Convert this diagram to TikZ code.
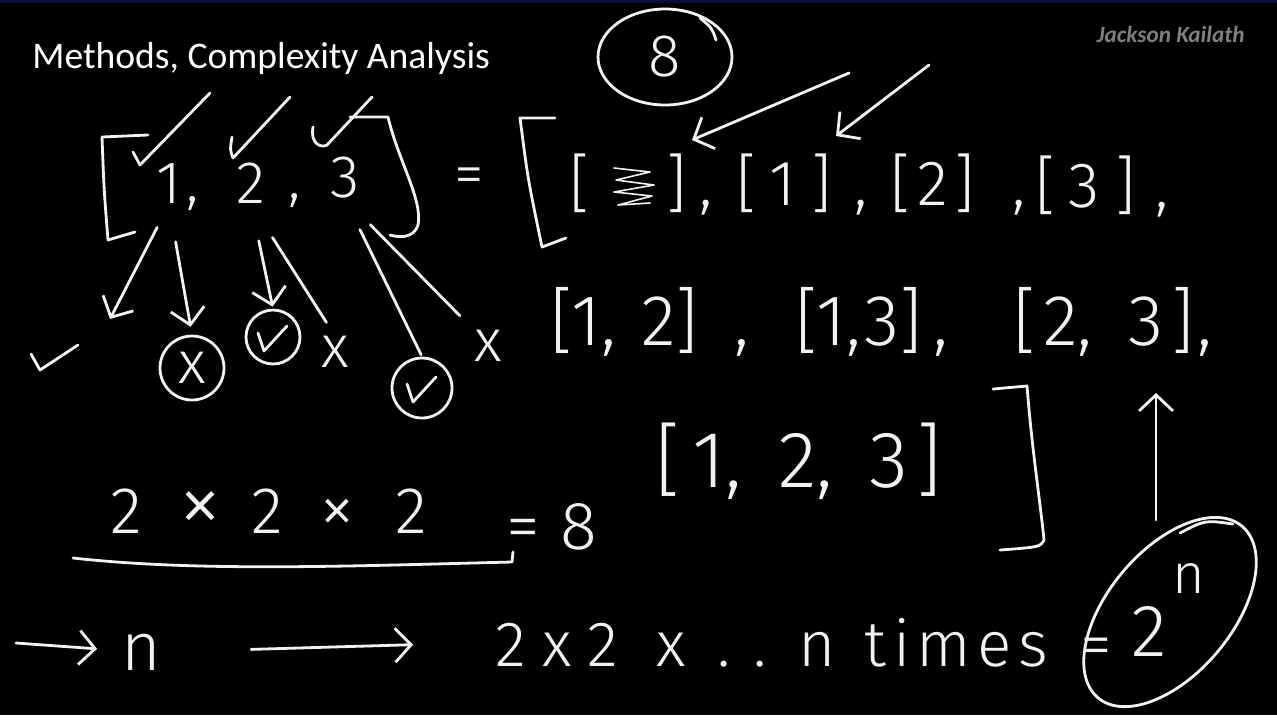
\documentclass[tikz,border=0pt]{standalone}
\usepackage{fontspec}
\usepackage{graphicx}
\setmainfont{Carlito}
\newfontfamily\hand{Fira Sans Light}
\usetikzlibrary{arrows.meta,positioning,calc,shapes.geometric}
\definecolor{chalk}{HTML}{F2F2F2}
\definecolor{sign}{HTML}{808080}
\definecolor{rim}{HTML}{0B0B40}

\begin{document}
\begin{tikzpicture}[
  x=0.5pt, y=-0.5pt,
  ink/.style={draw=chalk, line width=1.4pt, line cap=round, line join=round},
  pointer/.style={ink, -{Straight Barb[length=8pt, width=17pt]}},
  hand/.style={text=chalk, inner sep=0pt, font=\hand\fontsize{30}{32}\selectfont},
  row/.style={hand, anchor=base west, font=\hand\fontsize{32}{34}\selectfont},
  wide/.style={hand, anchor=base west, font=\hand\fontsize{36}{38}\selectfont},
  ring/.style={circle, ink, inner sep=0pt},
  tickmark/.pic={\draw[ink] (-15,-4) -- (-9,14) -- (14,-11);}
]
\fill[black] (0,0) rectangle (1277,715);
\fill[rim] (0,0) rectangle (1277,3);

\node[anchor=base west, inner sep=0pt, text=white, font=\fontsize{18.8}{22}\selectfont] (title) at (32,68) {Methods, Complexity Analysis};
\node[anchor=base east, inner sep=0pt, text=sign, font=\bfseries\itshape\fontsize{11.6}{13}\selectfont] (author) at (1245,42) {Jackson Kailath};

% the set 1,2,3
\node[hand] (d1) at (169,184) {1};
\node[hand] (c1) at (193,203) {,};
\node[hand] (d2) at (251,183) {2};
\node[hand] (c2) at (295,200) {,};
\node[hand] (d3) at (345,178) {3};
\draw[ink] (148,135) -- (102,137) .. controls (104,190) .. (108,240) -- (135,232);
\draw[ink] (350,117) -- (388,117) .. controls (398,160) and (423,200) .. (418,225) .. controls (414,238) and (400,238) .. (390,235);
\draw[ink] (133,152) -- (140,165) -- (210,93);
\draw[ink] (232,137) .. controls (230,150) .. (233,158) -- (290,97);
\draw[ink] (313,127) .. controls (310,145) and (322,148) .. (327,145) -- (372,97);
\node[hand] (eq1) at (469,181) {=};

% choices for each element
\coordinate (lft) at (110,319);
\node[ring, minimum size=32pt] (cx) at (192,368) {};
\node[hand] (cxt) at (cx) {x};
\node[ring, minimum size=27pt] (ck1) at (273,337) {};
\node[ring, minimum size=30pt] (ck2) at (422,388) {};
\pic at (ck1) {tickmark};
\pic at (ck2) {tickmark};
\draw[ink] (31,354) -- (40,370) -- (78,345);
\node[hand] (xa) at (335,352) {x};
\node[hand] (xb) at (488,346) {x};

\draw[pointer, shorten <=13pt] (d1.south) -- (lft);
\draw[pointer, shorten <=19pt, shorten >=4pt] (d1.south) -- (cx.north);
\draw[pointer, shorten <=19pt, shorten >=1pt] (d2.south) -- (ck1.north);
\draw[ink, shorten <=20pt, shorten >=8pt] (d2.south) -- (xa.north);
\draw[ink, shorten <=17pt, shorten >=1pt] (d3.south) -- (ck2.north);
\draw[ink, shorten <=18pt, shorten >=10pt] (d3.south) -- (xb.north west);

% all subsets
\draw[ink] (555,118) -- (520,118) .. controls (528,180) .. (542,247) -- (566,238);
\node[row] (e0) at (569,205) {[\hspace{1.2em}]\hspace{0.2em},};
\draw[ink, line width=0.8pt] (614,168) -- (650,172) -- (616,180) -- (654,185) -- (614,192) -- (652,196) -- (618,205) -- (650,203);
\node[row] (e1) at (736,205) {[\hspace{0.2em}1\hspace{0.25em}]\hspace{0.35em},};
\node[row] (e2) at (890,205) {[\hspace{0.1em}2\hspace{0.1em}]\hspace{0.6em},};
\node[row] (e3) at (1035,207) {[\hspace{0.2em}3\hspace{0.25em}]\hspace{0.3em},};
\node[wide] (p12) at (550,345) {[1,\hspace{0.35em}2]\hspace{0.5em},};
\node[wide] (p13) at (795,345) {[1,\hspace{0.05em}3]\hspace{0.15em},};
\node[wide] (p23) at (1013,345) {[\hspace{0.1em}2,\hspace{0.5em}3\hspace{0.1em}]\hspace{0.05em},};
\node[hand, anchor=base west, font=\hand\fontsize{40}{42}\selectfont] (p123) at (655,487) {[\hspace{0.15em}1,\hspace{0.45em}2,\hspace{0.45em}3\hspace{0.1em}]};
\draw[ink] (993,389) -- (1027,386) .. controls (1032,450) and (1040,500) .. (1044,540) .. controls (1040,547) .. (1000,550);

\node[hand, ellipse, ink, minimum width=67pt, minimum height=48pt] (cnt) at (665,57) {8};
\draw[ink] (700,18) .. controls (712,28) .. (716,40);
\coordinate (t1) at (849,73);
\coordinate (h1) at (692,140);
\coordinate (t2) at (929,65);
\coordinate (h2) at (836,136);
\draw[pointer] (t1) -- (h1);
\draw[pointer] (t2) -- (h2);

\coordinate (u0) at (1156,520);
\coordinate (u1) at (1156,393);
\draw[pointer] (u0) -- (u1);

% counting
\node[hand, anchor=base west, font=\hand\fontsize{33}{35}\selectfont] (prod) at (110,533) {2\hspace{0.55em}\scalebox{1.35}{×}\hspace{0.45em}2\hspace{0.55em}\scalebox{1.1}{×}\hspace{0.6em}2};
\draw[ink] (73,558) .. controls (200,572) and (350,566) .. (512,562) -- (513,552);
\node[hand, anchor=base west, font=\hand\fontsize{34}{36}\selectfont] (res) at (506,549) {=\hspace{0.3em}8};

\node[hand, font=\hand\fontsize{34}{36}\selectfont] (nn) at (141,652) {n};
\coordinate (s0) at (16,643);
\draw[pointer, shorten >=22pt] (s0) -- (nn.center);
\node[hand, anchor=base west, font=\hand\fontsize{32}{34}\selectfont] (expr) at (495,666) {2\hspace{0.25em}x\hspace{0.25em}2\hspace{0.6em}x\hspace{0.5em}.\hspace{0.35em}.\hspace{0.5em}n\hspace{0.45em}t\hspace{0.1em}i\hspace{0.1em}m\hspace{0.1em}e\hspace{0.1em}s\hspace{0.5em}=};
\draw[pointer, shorten <=45pt, shorten >=41pt] (nn.east) -- (expr.west);
\node[hand, anchor=base west, font=\hand\fontsize{37}{39}\selectfont] (pow) at (1131,656) {2\raisebox{0.85em}{\fontsize{28}{28}\selectfont\hspace{0.1em}n}};
\draw[ink, rotate around={50:(1170,612)}] (1170,612) ellipse [x radius=112, y radius=62];
\draw[ink] (1180,533) .. controls (1205,520) .. (1233,524);
\end{tikzpicture}
\end{document}
